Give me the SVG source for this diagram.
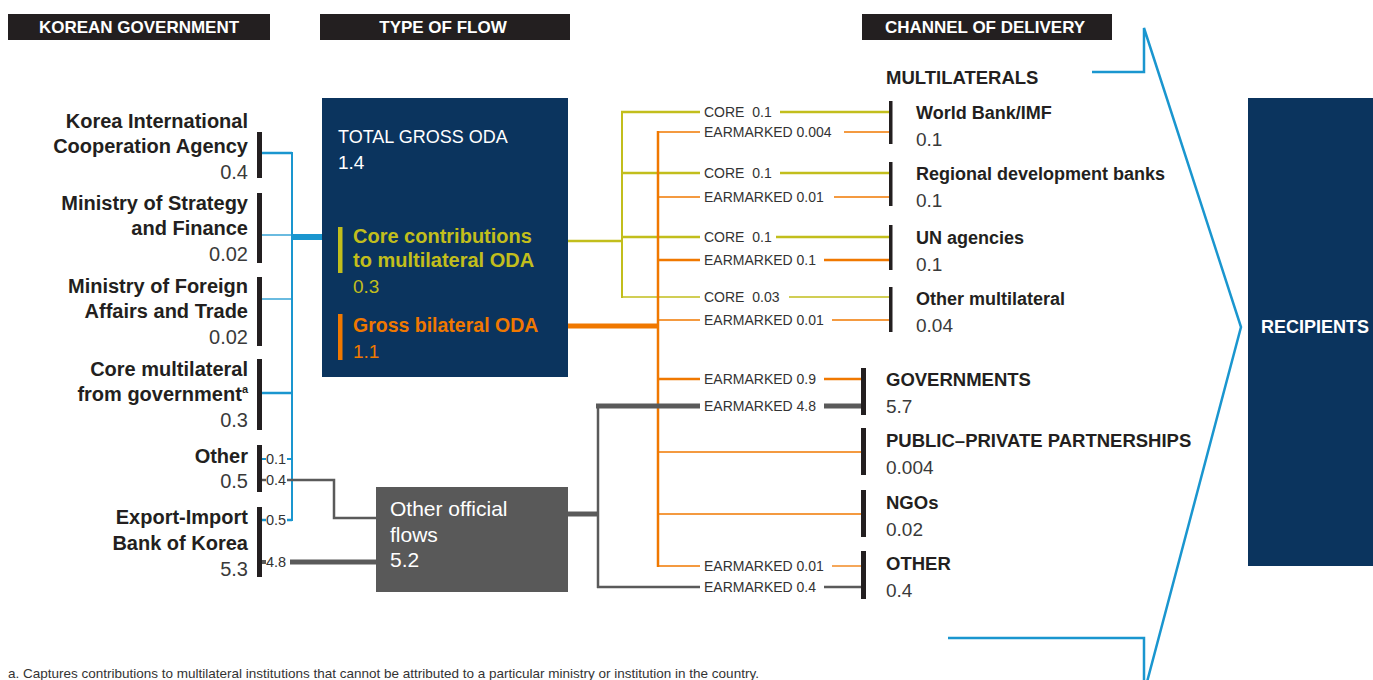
<svg xmlns="http://www.w3.org/2000/svg" width="1373" height="680" viewBox="0 0 1373 680">
<style>
text{font-family:"Liberation Sans",Arial,sans-serif}
.hd{fill:#fff;font-weight:bold;font-size:17px;text-anchor:middle}
.hbar{fill:#231f20}
.bar{fill:#231f20}
.lb{font-weight:bold;font-size:20px;fill:#231f20;text-anchor:end}
.lv{font-size:20px;fill:#3a3a3a;text-anchor:end}
.rb{font-weight:bold;font-size:18px;fill:#231f20}
.rv{font-size:19px;fill:#3a3a3a}
.cb{font-weight:bold;font-size:18.5px;fill:#231f20}
.sm{font-size:14px;fill:#333}
.tiny{font-size:14.5px;fill:#333}
.bl{stroke:#1a96cf;fill:none}
.ye{stroke:#c2be1c;fill:none}
.or{stroke:#f07800;fill:none}
.gr{stroke:#5a5a5a;fill:none}
</style>

<g id="headers">
<rect class="hbar" x="8" y="14" width="262" height="26"/>
<text class="hd" x="139" y="33">KOREAN GOVERNMENT</text>
<rect class="hbar" x="320" y="14" width="250" height="26"/>
<text class="hd" x="443" y="33">TYPE OF FLOW</text>
<rect class="hbar" x="862" y="14" width="250" height="26"/>
<text class="hd" x="985" y="33">CHANNEL OF DELIVERY</text>
</g>

<g id="connectors">
<line class="bl" x1="292" y1="152" x2="292" y2="521" stroke-width="2"/>
<line class="bl" x1="262" y1="153" x2="292" y2="153" stroke-width="2.5"/>
<line class="bl" x1="262" y1="235" x2="292" y2="235" stroke-width="1.3"/>
<line class="bl" x1="262" y1="299" x2="292" y2="299" stroke-width="1.3"/>
<line class="bl" x1="262" y1="393" x2="292" y2="393" stroke-width="2.5"/>
<line class="bl" x1="262" y1="459" x2="266" y2="459" stroke-width="2"/>
<line class="bl" x1="287" y1="459" x2="292" y2="459" stroke-width="2"/>
<line class="bl" x1="262" y1="520" x2="266" y2="520" stroke-width="2.5"/>
<line class="bl" x1="287" y1="520" x2="292" y2="520" stroke-width="2.5"/>
<line class="bl" x1="291" y1="237" x2="322" y2="237" stroke-width="6"/>
<line class="gr" x1="262" y1="480" x2="266" y2="480" stroke-width="2.5"/>
<polyline class="gr" points="287,480 334,480 334,518 376,518" stroke-width="2.5"/>
<line class="gr" x1="262" y1="562" x2="266" y2="562" stroke-width="4"/>
<line class="gr" x1="290" y1="562" x2="376" y2="562" stroke-width="5"/>
<line class="ye" x1="551" y1="241" x2="622" y2="241" stroke-width="2.5"/>
<line class="ye" x1="622" y1="111" x2="622" y2="298" stroke-width="2"/>
<line class="ye" x1="621" y1="112" x2="700" y2="112" stroke-width="2.5"/>
<line class="ye" x1="780" y1="112" x2="890" y2="112" stroke-width="2.5"/>
<line class="ye" x1="621" y1="173" x2="700" y2="173" stroke-width="2.5"/>
<line class="ye" x1="780" y1="173" x2="890" y2="173" stroke-width="2.5"/>
<line class="ye" x1="621" y1="237" x2="700" y2="237" stroke-width="2.5"/>
<line class="ye" x1="776" y1="237" x2="890" y2="237" stroke-width="2.5"/>
<line class="ye" x1="621" y1="297" x2="700" y2="297" stroke-width="1.3"/>
<line class="ye" x1="789" y1="297" x2="890" y2="297" stroke-width="1.3"/>
<line class="or" x1="546" y1="326" x2="658" y2="326" stroke-width="5"/>
<line class="or" x1="658" y1="131" x2="658" y2="567" stroke-width="2.5"/>
<line class="or" x1="657" y1="132" x2="700" y2="132" stroke-width="1.3"/>
<line class="or" x1="844" y1="132" x2="890" y2="132" stroke-width="1.3"/>
<line class="or" x1="657" y1="197" x2="700" y2="197" stroke-width="1.3"/>
<line class="or" x1="834" y1="197" x2="890" y2="197" stroke-width="1.3"/>
<line class="or" x1="657" y1="260" x2="700" y2="260" stroke-width="2.5"/>
<line class="or" x1="824" y1="260" x2="890" y2="260" stroke-width="2.5"/>
<line class="or" x1="657" y1="320" x2="700" y2="320" stroke-width="1.3"/>
<line class="or" x1="832" y1="320" x2="890" y2="320" stroke-width="1.3"/>
<line class="or" x1="657" y1="379" x2="700" y2="379" stroke-width="2.5"/>
<line class="or" x1="824" y1="379" x2="864" y2="379" stroke-width="2.5"/>
<line class="or" x1="657" y1="452" x2="864" y2="452" stroke-width="1.5"/>
<line class="or" x1="657" y1="514" x2="864" y2="514" stroke-width="1.5"/>
<line class="or" x1="657" y1="566" x2="700" y2="566" stroke-width="1.3"/>
<line class="or" x1="832" y1="566" x2="864" y2="566" stroke-width="1.3"/>
<line class="gr" x1="568" y1="514" x2="598" y2="514" stroke-width="5"/>
<line class="gr" x1="598" y1="404" x2="598" y2="588" stroke-width="2.5"/>
<line class="gr" x1="596" y1="406" x2="700" y2="406" stroke-width="5"/>
<line class="gr" x1="824" y1="406" x2="864" y2="406" stroke-width="5"/>
<line class="gr" x1="597" y1="587" x2="700" y2="587" stroke-width="2.5"/>
<line class="gr" x1="824" y1="587" x2="864" y2="587" stroke-width="2.5"/>
<path class="bl" d="M1092,72 H1144 V28 L1241,327 L1147,682" stroke-width="2.5"/>
<path class="bl" d="M948,638 H1144 V682" stroke-width="2.5"/>
</g>

<g id="flow-labels">
<text class="sm" x="704" y="117" xml:space="preserve">CORE  0.1</text>
<text class="sm" x="704" y="137">EARMARKED 0.004</text>
<text class="sm" x="704" y="178" xml:space="preserve">CORE  0.1</text>
<text class="sm" x="704" y="202">EARMARKED 0.01</text>
<text class="sm" x="704" y="242" xml:space="preserve">CORE  0.1</text>
<text class="sm" x="704" y="265">EARMARKED 0.1</text>
<text class="sm" x="704" y="302" xml:space="preserve">CORE  0.03</text>
<text class="sm" x="704" y="325">EARMARKED 0.01</text>
<text class="sm" x="704" y="384">EARMARKED 0.9</text>
<text class="sm" x="704" y="411">EARMARKED 4.8</text>
<text class="sm" x="704" y="571">EARMARKED 0.01</text>
<text class="sm" x="704" y="592">EARMARKED 0.4</text>
<text class="tiny" x="266" y="464">0.1</text>
<text class="tiny" x="266" y="485">0.4</text>
<text class="tiny" x="266" y="525">0.5</text>
<text class="tiny" x="266" y="567">4.8</text>
</g>

<g id="koica">
<rect class="bar" x="257" y="132" width="5" height="46"/>
<text class="lb" x="248" y="128">Korea International</text>
<text class="lb" x="248" y="153">Cooperation Agency</text>
<text class="lv" x="248" y="179">0.4</text>
</g>
<g id="mosf">
<rect class="bar" x="257" y="193" width="5" height="70"/>
<text class="lb" x="248" y="210">Ministry of Strategy</text>
<text class="lb" x="248" y="235">and Finance</text>
<text class="lv" x="248" y="261">0.02</text>
</g>
<g id="mofat">
<rect class="bar" x="257" y="277" width="5" height="69"/>
<text class="lb" x="248" y="293">Ministry of Foreign</text>
<text class="lb" x="248" y="318">Affairs and Trade</text>
<text class="lv" x="248" y="344">0.02</text>
</g>
<g id="coremulti">
<rect class="bar" x="257" y="359" width="5" height="71"/>
<text class="lb" x="248" y="376">Core multilateral</text>
<text class="lb" x="248" y="401">from government<tspan font-size="11" dy="-8">a</tspan></text>
<text class="lv" x="248" y="427">0.3</text>
</g>
<g id="other-gov">
<rect class="bar" x="257" y="445" width="5" height="47"/>
<text class="lb" x="248" y="463">Other</text>
<text class="lv" x="248" y="488">0.5</text>
</g>
<g id="eximbank">
<rect class="bar" x="257" y="507" width="5" height="70"/>
<text class="lb" x="248" y="524">Export-Import</text>
<text class="lb" x="248" y="550">Bank of Korea</text>
<text class="lv" x="248" y="576">5.3</text>
</g>

<g id="total-oda">
<rect x="322" y="98" width="246" height="279" fill="#0b345e"/>
<text x="338" y="143" font-size="18" fill="#fff">TOTAL GROSS ODA</text>
<text x="338" y="169" font-size="19" fill="#fff">1.4</text>
<rect x="338" y="227" width="4.5" height="46" fill="#c2be1c"/>
<text x="353" y="243" font-size="20" font-weight="bold" fill="#c2be1c">Core contributions</text>
<text x="353" y="267" font-size="20" font-weight="bold" fill="#c2be1c">to multilateral ODA</text>
<text x="353" y="293" font-size="19" fill="#c2be1c">0.3</text>
<rect x="338" y="314" width="4.5" height="46" fill="#f07800"/>
<text x="353" y="332" font-size="19.5" font-weight="bold" fill="#f07800">Gross bilateral ODA</text>
<text x="353" y="358" font-size="19" fill="#f07800">1.1</text>
</g>

<g id="other-official-flows">
<rect x="376" y="487" width="192" height="105" fill="#595959"/>
<text x="390" y="516" font-size="21" fill="#fff">Other official</text>
<text x="390" y="542" font-size="21" fill="#fff">flows</text>
<text x="390" y="567" font-size="21" fill="#fff">5.2</text>
</g>

<g id="multilaterals">
<text class="cb" x="886" y="84">MULTILATERALS</text>
</g>
<g id="worldbank">
<rect class="bar" x="889" y="101" width="3.5" height="43"/>
<text class="rb" x="916" y="119">World Bank/IMF</text>
<text class="rv" x="916" y="146">0.1</text>
</g>
<g id="rdb">
<rect class="bar" x="889" y="162" width="3.5" height="44"/>
<text class="rb" x="916" y="180">Regional development banks</text>
<text class="rv" x="916" y="207">0.1</text>
</g>
<g id="un">
<rect class="bar" x="889" y="225" width="3.5" height="45"/>
<text class="rb" x="916" y="244">UN agencies</text>
<text class="rv" x="916" y="271">0.1</text>
</g>
<g id="othermulti">
<rect class="bar" x="889" y="287" width="3.5" height="45"/>
<text class="rb" x="916" y="305">Other multilateral</text>
<text class="rv" x="916" y="332">0.04</text>
</g>
<g id="governments">
<rect class="bar" x="861" y="368" width="5" height="47"/>
<text class="cb" x="886" y="386">GOVERNMENTS</text>
<text class="rv" x="886" y="413">5.7</text>
</g>
<g id="ppp">
<rect class="bar" x="861" y="428" width="5" height="47"/>
<text class="cb" x="886" y="447">PUBLIC–PRIVATE PARTNERSHIPS</text>
<text class="rv" x="886" y="474">0.004</text>
</g>
<g id="ngos">
<rect class="bar" x="861" y="490" width="5" height="47"/>
<text class="cb" x="886" y="509">NGOs</text>
<text class="rv" x="886" y="536">0.02</text>
</g>
<g id="other-channel">
<rect class="bar" x="861" y="551" width="5" height="48"/>
<text class="cb" x="886" y="570">OTHER</text>
<text class="rv" x="886" y="597">0.4</text>
</g>

<g id="recipients">
<rect x="1248" y="98" width="125" height="468" fill="#0b345e"/>
<text x="1315" y="333" font-size="18" font-weight="bold" fill="#fff" text-anchor="middle">RECIPIENTS</text>
</g>

<g id="footnote">
<text x="8" y="678" font-size="13.5" fill="#333">a. Captures contributions to multilateral institutions that cannot be attributed to a particular ministry or institution in the country.</text>
</g>
</svg>
